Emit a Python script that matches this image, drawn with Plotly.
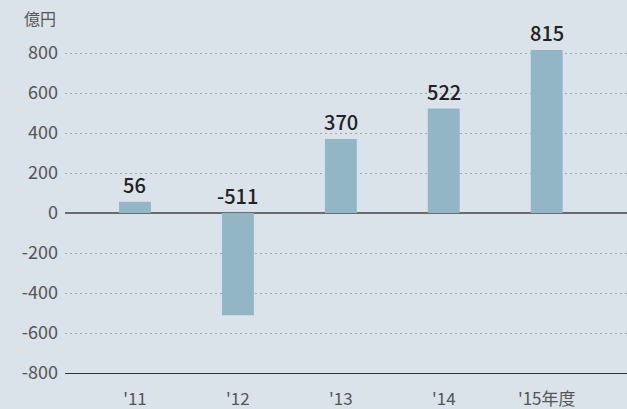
import plotly.graph_objects as go

years = ["'11", "'12", "'13", "'14", "'15年度"]
values = [56, -511, 370, 522, 815]
labels = ["56", "-511", "370", "522", "815"]
y_ticks = [800, 600, 400, 200, 0, -200, -400, -600, -800]
y_tick_text = ["800", "600", "400", "200", "0", "-200", "-400", "-600", "-800"]

FONT = "Noto Sans CJK JP"
BG = "#d9e3e9"

fig = go.Figure(go.Bar(
    x=years, y=values,
    marker=dict(color="#93b6c6", line=dict(width=0)),
    width=0.31, hoverinfo="skip",
))

annotations = [dict(
    x=c, y=max(v, 0), text=t, xref="x", yref="y",
    showarrow=False, yanchor="bottom", yshift=1,
    font=dict(family=FONT, size=20, color="#222222", weight=500),
) for c, v, t in zip(years, values, labels)]

annotations.append(dict(
    text="億円", xref="paper", yref="paper", x=-0.045, y=1.0,
    xanchor="center", yanchor="bottom", yshift=9, showarrow=False,
    font=dict(family=FONT, size=16, color="#555555"),
))

fig.update_layout(
    width=627, height=409,
    margin=dict(l=65, r=0, t=41, b=36),
    paper_bgcolor=BG, plot_bgcolor=BG,
    showlegend=False,
    font=dict(family=FONT, size=17, color="#555555"),
    xaxis=dict(
        range=[-0.68, 4.78], showgrid=False, showline=True,
        linecolor="#333333", linewidth=1, ticks="",
        tickfont=dict(family=FONT, size=17, color="#555555"),
        ticklabelstandoff=11,
    ),
    yaxis=dict(
        range=[-800, 860], tickvals=y_ticks, ticktext=y_tick_text,
        showgrid=True, gridcolor="#9ea7ad", griddash="2px,3px", gridwidth=1,
        zeroline=True, zerolinecolor="#6b6b6b", zerolinewidth=2,
        ticks="", ticklabelstandoff=6,
        tickfont=dict(family=FONT, size=18, color="#555555"),
    ),
    annotations=annotations,
)

fig.write_html("out.html", config={"displayModeBar": False},
               post_script="document.body.style.margin='0';document.body.style.overflow='hidden';")
